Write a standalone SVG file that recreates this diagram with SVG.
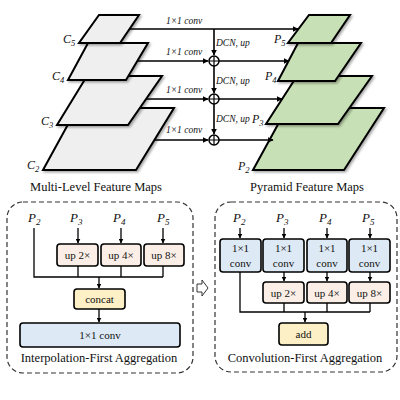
<svg xmlns="http://www.w3.org/2000/svg" width="400" height="400" viewBox="0 0 400 400" font-family="'Liberation Serif', 'Times New Roman', serif">
<style>
text{font-family:"Liberation Serif","Times New Roman",serif}
.t{fill:#111}
.it{font-style:italic}
.plc{fill:#efefef;stroke:#000;stroke-width:2;stroke-linejoin:miter}
.plp{fill:#c8e0b6;stroke:#000;stroke-width:2;stroke-linejoin:miter}
.ln{fill:none;stroke:#000;stroke-width:1.6}
.lnb{fill:none;stroke:#000;stroke-width:1.3}
.box{stroke:#000;stroke-width:1.6}
.up{fill:#fbeee6}
.yel{fill:#fdf0c6}
.blu{fill:#dde9f4}
.dash{fill:none;stroke:#333;stroke-width:1.2;stroke-dasharray:5,3}
</style>
<defs>
<marker id="ah" viewBox="0 0 10 10" refX="9" refY="5" markerWidth="6" markerHeight="6" orient="auto" markerUnits="userSpaceOnUse"><path d="M0,0 L10,5 L0,10 z" fill="#000"/></marker>
<marker id="ahs" viewBox="0 0 10 10" refX="9" refY="5" markerWidth="5" markerHeight="5" orient="auto" markerUnits="userSpaceOnUse"><path d="M0,0 L10,5 L0,10 z" fill="#000"/></marker>
<filter id="sh" x="-10%" y="-10%" width="130%" height="130%"><feDropShadow dx="1.5" dy="1.5" stdDeviation="1" flood-color="#000" flood-opacity="0.35"/></filter>
</defs>

<!-- Left planes -->
<g id="C2"><polygon class="plc" filter="url(#sh)" points="77,108 174,108 136,170 43,170"/><text class="t it" x="27" y="169" font-size="12">C<tspan dy="3" font-size="8.5">2</tspan></text></g>
<g id="C3"><polygon class="plc" filter="url(#sh)" points="87,76 162,76 128,125 57,125"/><text class="t it" x="41" y="125" font-size="12">C<tspan dy="3" font-size="8.5">3</tspan></text></g>
<g id="C4"><polygon class="plc" filter="url(#sh)" points="88,43 148,43 126,80 68,80"/><text class="t it" x="52" y="80" font-size="12">C<tspan dy="3" font-size="8.5">4</tspan></text></g>
<g id="C5"><polygon class="plc" filter="url(#sh)" points="99,15 139,15 120,43 79,43"/><text class="t it" x="63" y="43" font-size="12">C<tspan dy="3" font-size="8.5">5</tspan></text></g>
<text class="t" x="96" y="191" font-size="12.5" text-anchor="middle">Multi-Level Feature Maps</text>

<!-- Right planes -->
<g id="P2"><polygon class="plp" filter="url(#sh)" points="287,108 384,108 344,170 253,170"/><text class="t it" x="238" y="170" font-size="12">P<tspan dy="3" font-size="8.5">2</tspan></text></g>
<g id="P3"><polygon class="plp" filter="url(#sh)" points="297,76 372,76 338,124 266,124"/><text class="t it" x="252" y="123" font-size="12">P<tspan dy="3" font-size="8.5">3</tspan></text></g>
<g id="P4"><polygon class="plp" filter="url(#sh)" points="298,43 361,43 335,81 278,81"/><text class="t it" x="265" y="80" font-size="12">P<tspan dy="3" font-size="8.5">4</tspan></text></g>
<g id="P5"><polygon class="plp" filter="url(#sh)" points="309,15 350,15 331,43 288,43"/><text class="t it" x="274" y="43" font-size="12">P<tspan dy="3" font-size="8.5">5</tspan></text></g>
<text class="t" x="307" y="191" font-size="12.5" text-anchor="middle">Pyramid Feature Maps</text>

<!-- Sum nodes -->
<g id="sum4"><circle cx="214" cy="61" r="5" fill="#fff" stroke="#000" stroke-width="1.5"/><path d="M209,61 H219 M214,56 V66" stroke="#000" stroke-width="1.2"/></g>
<g id="sum3"><circle cx="214" cy="99" r="5" fill="#fff" stroke="#000" stroke-width="1.5"/><path d="M209,99 H219 M214,94 V104" stroke="#000" stroke-width="1.2"/></g>
<g id="sum2"><circle cx="214" cy="140" r="5" fill="#fff" stroke="#000" stroke-width="1.5"/><path d="M209,140 H219 M214,135 V145" stroke="#000" stroke-width="1.2"/></g>

<!-- Top connectors -->
<g id="top-connectors">
<path class="ln" d="M130,29 H298" marker-end="url(#ah)"/>
<path class="ln" d="M137,61 H208" marker-end="url(#ah)"/>
<path class="ln" d="M219,61 H289" marker-end="url(#ah)"/>
<path class="ln" d="M146,99 H208" marker-end="url(#ah)"/>
<path class="ln" d="M219,99 H282" marker-end="url(#ah)"/>
<path class="ln" d="M155,140 H208" marker-end="url(#ah)"/>
<path class="ln" d="M219,140 H273" marker-end="url(#ah)"/>
<path class="ln" d="M214,29 V55" marker-end="url(#ah)"/>
<path class="ln" d="M214,66 V93" marker-end="url(#ah)"/>
<path class="ln" d="M214,104 V134" marker-end="url(#ah)"/>
</g>
<g font-size="9.5">
<text class="t it" x="184" y="24" text-anchor="middle">1×1 conv</text>
<text class="t it" x="184" y="55" text-anchor="middle">1×1 conv</text>
<text class="t it" x="184" y="93" text-anchor="middle">1×1 conv</text>
<text class="t it" x="184" y="133" text-anchor="middle">1×1 conv</text>
<text class="t it" x="216" y="46">DCN, up</text>
<text class="t it" x="216" y="84">DCN, up</text>
<text class="t it" x="216" y="122">DCN, up</text>
</g>

<!-- Left bottom panel -->
<rect class="dash" x="7" y="202" width="186" height="171" rx="16"/>
<g font-size="13">
<text class="t it" x="28" y="222">P<tspan dy="3" font-size="9">2</tspan></text>
<text class="t it" x="70" y="222">P<tspan dy="3" font-size="9">3</tspan></text>
<text class="t it" x="113" y="222">P<tspan dy="3" font-size="9">4</tspan></text>
<text class="t it" x="157" y="222">P<tspan dy="3" font-size="9">5</tspan></text>
</g>
<g id="L-up2"><rect class="box up" x="57" y="244" width="41" height="22" rx="3"/><text class="t" x="77.5" y="259" font-size="11" text-anchor="middle">up 2×</text></g>
<g id="L-up4"><rect class="box up" x="101" y="244" width="40" height="22" rx="3"/><text class="t" x="121" y="259" font-size="11" text-anchor="middle">up 4×</text></g>
<g id="L-up8"><rect class="box up" x="144" y="244" width="40" height="22" rx="3"/><text class="t" x="164" y="259" font-size="11" text-anchor="middle">up 8×</text></g>
<g id="L-concat"><rect class="box yel" x="74" y="289" width="51" height="20" rx="3"/><text class="t" x="99.5" y="303" font-size="11" text-anchor="middle">concat</text></g>
<g id="L-conv"><rect class="box blu" x="20" y="323" width="160" height="24" rx="3"/><text class="t" x="100" y="339" font-size="11" text-anchor="middle">1×1 conv</text></g>
<text class="t" x="99" y="362" font-size="12.5" text-anchor="middle">Interpolation-First Aggregation</text>

<!-- Right bottom panel -->
<rect class="dash" x="215" y="202" width="182" height="170" rx="16"/>
<g font-size="13">
<text class="t it" x="233" y="222">P<tspan dy="3" font-size="9">2</tspan></text>
<text class="t it" x="276" y="222">P<tspan dy="3" font-size="9">3</tspan></text>
<text class="t it" x="319" y="222">P<tspan dy="3" font-size="9">4</tspan></text>
<text class="t it" x="362" y="222">P<tspan dy="3" font-size="9">5</tspan></text>
</g>
<g id="R-conv2"><rect class="box blu" x="220" y="239" width="41" height="33" rx="3"/><text class="t" x="240.5" y="252" font-size="11" text-anchor="middle">1×1</text><text class="t" x="240.5" y="267" font-size="11" text-anchor="middle">conv</text></g>
<g id="R-conv3"><rect class="box blu" x="263" y="239" width="41" height="33" rx="3"/><text class="t" x="283.5" y="252" font-size="11" text-anchor="middle">1×1</text><text class="t" x="283.5" y="267" font-size="11" text-anchor="middle">conv</text></g>
<g id="R-conv4"><rect class="box blu" x="307" y="239" width="40" height="33" rx="3"/><text class="t" x="327" y="252" font-size="11" text-anchor="middle">1×1</text><text class="t" x="327" y="267" font-size="11" text-anchor="middle">conv</text></g>
<g id="R-conv5"><rect class="box blu" x="349" y="239" width="41" height="33" rx="3"/><text class="t" x="369.5" y="252" font-size="11" text-anchor="middle">1×1</text><text class="t" x="369.5" y="267" font-size="11" text-anchor="middle">conv</text></g>
<g id="R-up2"><rect class="box up" x="263" y="282" width="41" height="21" rx="3"/><text class="t" x="283.5" y="297" font-size="11" text-anchor="middle">up 2×</text></g>
<g id="R-up4"><rect class="box up" x="307" y="282" width="40" height="21" rx="3"/><text class="t" x="327" y="297" font-size="11" text-anchor="middle">up 4×</text></g>
<g id="R-up8"><rect class="box up" x="349" y="282" width="41" height="21" rx="3"/><text class="t" x="369.5" y="297" font-size="11" text-anchor="middle">up 8×</text></g>
<g id="R-add"><rect class="box yel" x="279" y="323" width="49" height="22" rx="3"/><text class="t" x="303.5" y="338" font-size="11" text-anchor="middle">add</text></g>
<text class="t" x="305" y="362" font-size="12.5" text-anchor="middle">Convolution-First Aggregation</text>

<!-- Bottom connectors -->
<g id="bottom-connectors">
<path class="lnb" d="M78,228 V243" marker-end="url(#ahs)"/>
<path class="lnb" d="M121,228 V243" marker-end="url(#ahs)"/>
<path class="lnb" d="M163,228 V243" marker-end="url(#ahs)"/>
<path class="lnb" d="M34,228 V277 H163 M78,266 V277 M121,266 V277 M163,266 V277"/>
<path class="lnb" d="M99,277 V288" marker-end="url(#ahs)"/>
<path class="lnb" d="M99,309 V322" marker-end="url(#ahs)"/>
<path class="lnb" d="M240,228 V238" marker-end="url(#ahs)"/>
<path class="lnb" d="M284,228 V238" marker-end="url(#ahs)"/>
<path class="lnb" d="M327,228 V238" marker-end="url(#ahs)"/>
<path class="lnb" d="M370,228 V238" marker-end="url(#ahs)"/>
<path class="lnb" d="M284,272 V281" marker-end="url(#ahs)"/>
<path class="lnb" d="M327,272 V281" marker-end="url(#ahs)"/>
<path class="lnb" d="M370,272 V281" marker-end="url(#ahs)"/>
<path class="lnb" d="M240,272 V312 H370 M284,303 V312 M327,303 V312 M370,303 V312"/>
<path class="lnb" d="M305,312 V322" marker-end="url(#ahs)"/>
</g>
<polygon points="197,284 202,284 202,280 208,288 202,296 202,292 197,292" fill="#fff" stroke="#333" stroke-width="1"/>
</svg>
